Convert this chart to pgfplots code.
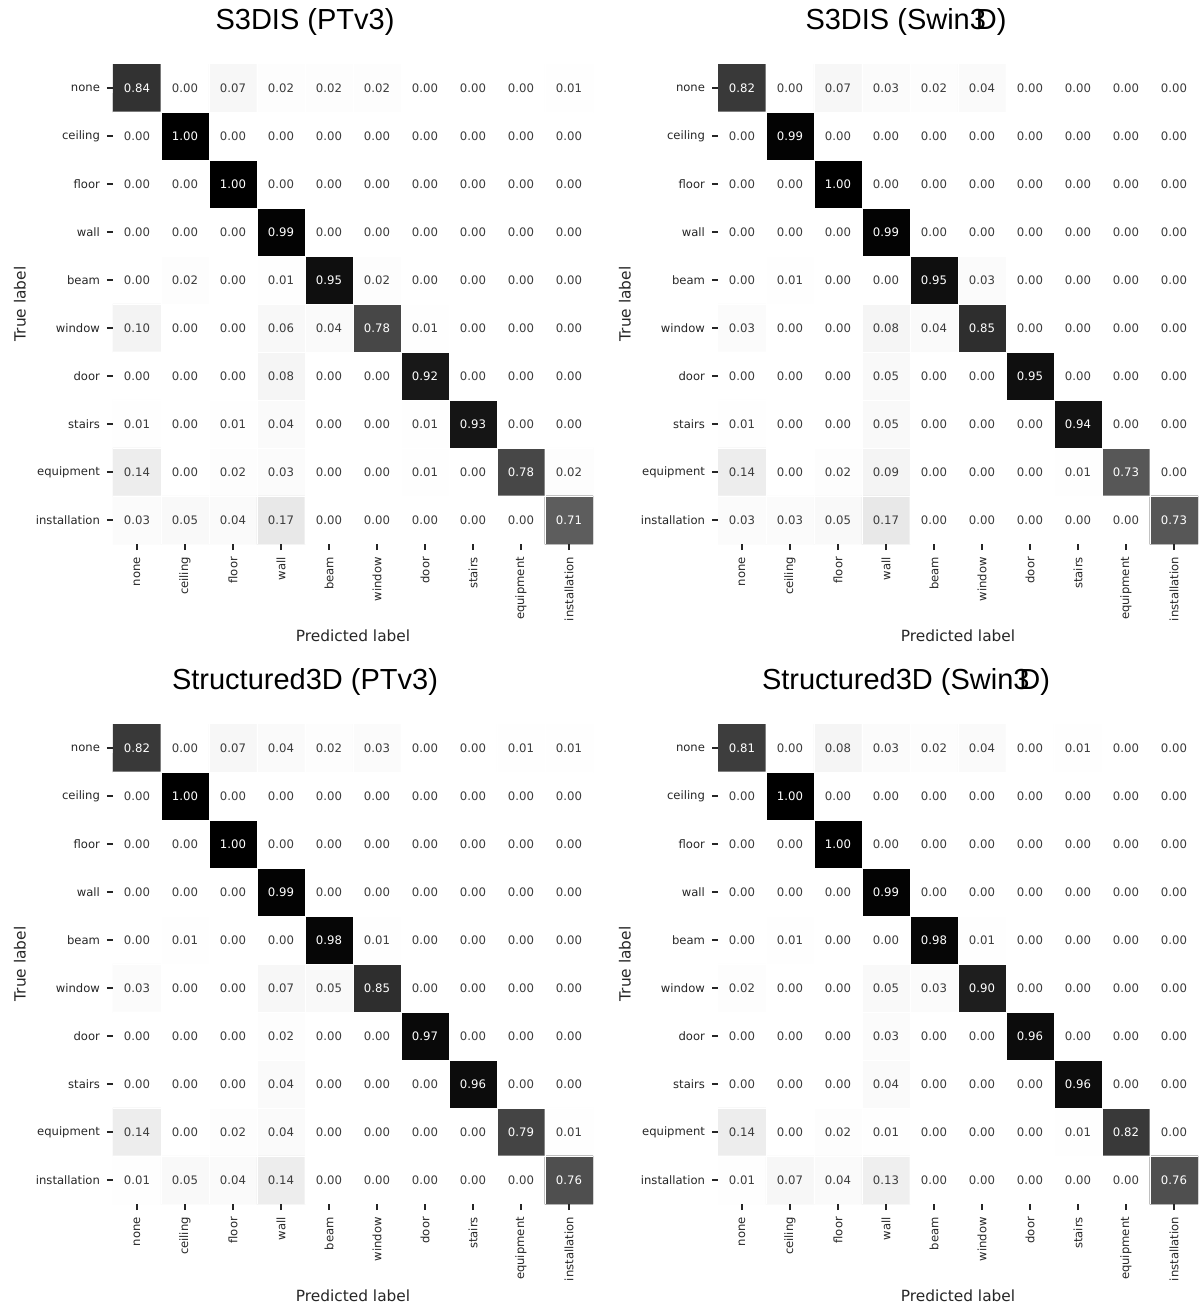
\documentclass[border=0pt]{standalone}
\usepackage{pgfplots}
\pgfplotsset{compat=1.18}
\usepackage{pgfplotstable}
\usepackage{fontspec}
\setmainfont{DejaVu Sans}
\newfontfamily\titlefont{Liberation Sans}
\definecolor{tickc}{HTML}{262626}

% S3DIS (PTv3)
\pgfplotstableread[row sep=\\]{
x y v\\
0 0 0.84\\ 1 0 0.00\\ 2 0 0.07\\ 3 0 0.02\\ 4 0 0.02\\ 5 0 0.02\\ 6 0 0.00\\ 7 0 0.00\\ 8 0 0.00\\ 9 0 0.01\\
0 1 0.00\\ 1 1 1.00\\ 2 1 0.00\\ 3 1 0.00\\ 4 1 0.00\\ 5 1 0.00\\ 6 1 0.00\\ 7 1 0.00\\ 8 1 0.00\\ 9 1 0.00\\
0 2 0.00\\ 1 2 0.00\\ 2 2 1.00\\ 3 2 0.00\\ 4 2 0.00\\ 5 2 0.00\\ 6 2 0.00\\ 7 2 0.00\\ 8 2 0.00\\ 9 2 0.00\\
0 3 0.00\\ 1 3 0.00\\ 2 3 0.00\\ 3 3 0.99\\ 4 3 0.00\\ 5 3 0.00\\ 6 3 0.00\\ 7 3 0.00\\ 8 3 0.00\\ 9 3 0.00\\
0 4 0.00\\ 1 4 0.02\\ 2 4 0.00\\ 3 4 0.01\\ 4 4 0.95\\ 5 4 0.02\\ 6 4 0.00\\ 7 4 0.00\\ 8 4 0.00\\ 9 4 0.00\\
0 5 0.10\\ 1 5 0.00\\ 2 5 0.00\\ 3 5 0.06\\ 4 5 0.04\\ 5 5 0.78\\ 6 5 0.01\\ 7 5 0.00\\ 8 5 0.00\\ 9 5 0.00\\
0 6 0.00\\ 1 6 0.00\\ 2 6 0.00\\ 3 6 0.08\\ 4 6 0.00\\ 5 6 0.00\\ 6 6 0.92\\ 7 6 0.00\\ 8 6 0.00\\ 9 6 0.00\\
0 7 0.01\\ 1 7 0.00\\ 2 7 0.01\\ 3 7 0.04\\ 4 7 0.00\\ 5 7 0.00\\ 6 7 0.01\\ 7 7 0.93\\ 8 7 0.00\\ 9 7 0.00\\
0 8 0.14\\ 1 8 0.00\\ 2 8 0.02\\ 3 8 0.03\\ 4 8 0.00\\ 5 8 0.00\\ 6 8 0.01\\ 7 8 0.00\\ 8 8 0.78\\ 9 8 0.02\\
0 9 0.03\\ 1 9 0.05\\ 2 9 0.04\\ 3 9 0.17\\ 4 9 0.00\\ 5 9 0.00\\ 6 9 0.00\\ 7 9 0.00\\ 8 9 0.00\\ 9 9 0.71\\
}\tabA

% S3DIS (Swin3D)
\pgfplotstableread[row sep=\\]{
x y v\\
0 0 0.82\\ 1 0 0.00\\ 2 0 0.07\\ 3 0 0.03\\ 4 0 0.02\\ 5 0 0.04\\ 6 0 0.00\\ 7 0 0.00\\ 8 0 0.00\\ 9 0 0.00\\
0 1 0.00\\ 1 1 0.99\\ 2 1 0.00\\ 3 1 0.00\\ 4 1 0.00\\ 5 1 0.00\\ 6 1 0.00\\ 7 1 0.00\\ 8 1 0.00\\ 9 1 0.00\\
0 2 0.00\\ 1 2 0.00\\ 2 2 1.00\\ 3 2 0.00\\ 4 2 0.00\\ 5 2 0.00\\ 6 2 0.00\\ 7 2 0.00\\ 8 2 0.00\\ 9 2 0.00\\
0 3 0.00\\ 1 3 0.00\\ 2 3 0.00\\ 3 3 0.99\\ 4 3 0.00\\ 5 3 0.00\\ 6 3 0.00\\ 7 3 0.00\\ 8 3 0.00\\ 9 3 0.00\\
0 4 0.00\\ 1 4 0.01\\ 2 4 0.00\\ 3 4 0.00\\ 4 4 0.95\\ 5 4 0.03\\ 6 4 0.00\\ 7 4 0.00\\ 8 4 0.00\\ 9 4 0.00\\
0 5 0.03\\ 1 5 0.00\\ 2 5 0.00\\ 3 5 0.08\\ 4 5 0.04\\ 5 5 0.85\\ 6 5 0.00\\ 7 5 0.00\\ 8 5 0.00\\ 9 5 0.00\\
0 6 0.00\\ 1 6 0.00\\ 2 6 0.00\\ 3 6 0.05\\ 4 6 0.00\\ 5 6 0.00\\ 6 6 0.95\\ 7 6 0.00\\ 8 6 0.00\\ 9 6 0.00\\
0 7 0.01\\ 1 7 0.00\\ 2 7 0.00\\ 3 7 0.05\\ 4 7 0.00\\ 5 7 0.00\\ 6 7 0.00\\ 7 7 0.94\\ 8 7 0.00\\ 9 7 0.00\\
0 8 0.14\\ 1 8 0.00\\ 2 8 0.02\\ 3 8 0.09\\ 4 8 0.00\\ 5 8 0.00\\ 6 8 0.00\\ 7 8 0.01\\ 8 8 0.73\\ 9 8 0.00\\
0 9 0.03\\ 1 9 0.03\\ 2 9 0.05\\ 3 9 0.17\\ 4 9 0.00\\ 5 9 0.00\\ 6 9 0.00\\ 7 9 0.00\\ 8 9 0.00\\ 9 9 0.73\\
}\tabB

% Structured3D (PTv3)
\pgfplotstableread[row sep=\\]{
x y v\\
0 0 0.82\\ 1 0 0.00\\ 2 0 0.07\\ 3 0 0.04\\ 4 0 0.02\\ 5 0 0.03\\ 6 0 0.00\\ 7 0 0.00\\ 8 0 0.01\\ 9 0 0.01\\
0 1 0.00\\ 1 1 1.00\\ 2 1 0.00\\ 3 1 0.00\\ 4 1 0.00\\ 5 1 0.00\\ 6 1 0.00\\ 7 1 0.00\\ 8 1 0.00\\ 9 1 0.00\\
0 2 0.00\\ 1 2 0.00\\ 2 2 1.00\\ 3 2 0.00\\ 4 2 0.00\\ 5 2 0.00\\ 6 2 0.00\\ 7 2 0.00\\ 8 2 0.00\\ 9 2 0.00\\
0 3 0.00\\ 1 3 0.00\\ 2 3 0.00\\ 3 3 0.99\\ 4 3 0.00\\ 5 3 0.00\\ 6 3 0.00\\ 7 3 0.00\\ 8 3 0.00\\ 9 3 0.00\\
0 4 0.00\\ 1 4 0.01\\ 2 4 0.00\\ 3 4 0.00\\ 4 4 0.98\\ 5 4 0.01\\ 6 4 0.00\\ 7 4 0.00\\ 8 4 0.00\\ 9 4 0.00\\
0 5 0.03\\ 1 5 0.00\\ 2 5 0.00\\ 3 5 0.07\\ 4 5 0.05\\ 5 5 0.85\\ 6 5 0.00\\ 7 5 0.00\\ 8 5 0.00\\ 9 5 0.00\\
0 6 0.00\\ 1 6 0.00\\ 2 6 0.00\\ 3 6 0.02\\ 4 6 0.00\\ 5 6 0.00\\ 6 6 0.97\\ 7 6 0.00\\ 8 6 0.00\\ 9 6 0.00\\
0 7 0.00\\ 1 7 0.00\\ 2 7 0.00\\ 3 7 0.04\\ 4 7 0.00\\ 5 7 0.00\\ 6 7 0.00\\ 7 7 0.96\\ 8 7 0.00\\ 9 7 0.00\\
0 8 0.14\\ 1 8 0.00\\ 2 8 0.02\\ 3 8 0.04\\ 4 8 0.00\\ 5 8 0.00\\ 6 8 0.00\\ 7 8 0.00\\ 8 8 0.79\\ 9 8 0.01\\
0 9 0.01\\ 1 9 0.05\\ 2 9 0.04\\ 3 9 0.14\\ 4 9 0.00\\ 5 9 0.00\\ 6 9 0.00\\ 7 9 0.00\\ 8 9 0.00\\ 9 9 0.76\\
}\tabC

% Structured3D (Swin3D)
\pgfplotstableread[row sep=\\]{
x y v\\
0 0 0.81\\ 1 0 0.00\\ 2 0 0.08\\ 3 0 0.03\\ 4 0 0.02\\ 5 0 0.04\\ 6 0 0.00\\ 7 0 0.01\\ 8 0 0.00\\ 9 0 0.00\\
0 1 0.00\\ 1 1 1.00\\ 2 1 0.00\\ 3 1 0.00\\ 4 1 0.00\\ 5 1 0.00\\ 6 1 0.00\\ 7 1 0.00\\ 8 1 0.00\\ 9 1 0.00\\
0 2 0.00\\ 1 2 0.00\\ 2 2 1.00\\ 3 2 0.00\\ 4 2 0.00\\ 5 2 0.00\\ 6 2 0.00\\ 7 2 0.00\\ 8 2 0.00\\ 9 2 0.00\\
0 3 0.00\\ 1 3 0.00\\ 2 3 0.00\\ 3 3 0.99\\ 4 3 0.00\\ 5 3 0.00\\ 6 3 0.00\\ 7 3 0.00\\ 8 3 0.00\\ 9 3 0.00\\
0 4 0.00\\ 1 4 0.01\\ 2 4 0.00\\ 3 4 0.00\\ 4 4 0.98\\ 5 4 0.01\\ 6 4 0.00\\ 7 4 0.00\\ 8 4 0.00\\ 9 4 0.00\\
0 5 0.02\\ 1 5 0.00\\ 2 5 0.00\\ 3 5 0.05\\ 4 5 0.03\\ 5 5 0.90\\ 6 5 0.00\\ 7 5 0.00\\ 8 5 0.00\\ 9 5 0.00\\
0 6 0.00\\ 1 6 0.00\\ 2 6 0.00\\ 3 6 0.03\\ 4 6 0.00\\ 5 6 0.00\\ 6 6 0.96\\ 7 6 0.00\\ 8 6 0.00\\ 9 6 0.00\\
0 7 0.00\\ 1 7 0.00\\ 2 7 0.00\\ 3 7 0.04\\ 4 7 0.00\\ 5 7 0.00\\ 6 7 0.00\\ 7 7 0.96\\ 8 7 0.00\\ 9 7 0.00\\
0 8 0.14\\ 1 8 0.00\\ 2 8 0.02\\ 3 8 0.01\\ 4 8 0.00\\ 5 8 0.00\\ 6 8 0.00\\ 7 8 0.01\\ 8 8 0.82\\ 9 8 0.00\\
0 9 0.01\\ 1 9 0.07\\ 2 9 0.04\\ 3 9 0.13\\ 4 9 0.00\\ 5 9 0.00\\ 6 9 0.00\\ 7 9 0.00\\ 8 9 0.00\\ 9 9 0.76\\
}\tabD

\pgfplotsset{
  /pgf/number format/assume math mode=true,
  cm/.style={
    width=240pt, height=240pt, scale only axis,
    xmin=-0.5, xmax=9.5, ymin=-0.5, ymax=9.5,
    axis line style={draw=none},
    colormap={greys}{rgb255=(255,255,255) rgb255=(240,240,240) rgb255=(217,217,217) rgb255=(189,189,189) rgb255=(150,150,150) rgb255=(115,115,115) rgb255=(82,82,82) rgb255=(37,37,37) rgb255=(0,0,0)},
    point meta min=0, point meta max=1,
    xtick={0,...,9}, ytick={0,...,9},
    xticklabels={none,ceiling,floor,wall,beam,window,door,stairs,equipment,installation},
    yticklabels={installation,equipment,stairs,door,window,beam,wall,floor,ceiling,none},
    x tick label style={rotate=90, anchor=east},
    tick label style={font=\fontsize{5.8}{7}\selectfont, text=tickc},
    tick align=outside, major tick length=3pt,
    tick style={tickc, line width=0.6pt},
    xtick pos=bottom, ytick pos=left,
    minor xtick={0.5,1.5,...,8.5}, minor ytick={0.5,1.5,...,8.5},
    minor tick length=0pt,
    xminorgrids=true, yminorgrids=true,
    minor grid style={white, line width=0.5pt},
    axis on top,
    xlabel={Predicted label}, ylabel={True label},
    label style={font=\fontsize{7.7}{9}\selectfont, text=tickc},
    xlabel style={at={(axis description cs:0.5,-0.192)}, anchor=center},
    ylabel style={at={(axis description cs:-0.194,0.5)}, anchor=center},
  },
  hm/.style={matrix plot*, mesh/cols=10, point meta=\thisrow{v}},
  txtw/.style={draw=none, mark=none, point meta=\thisrow{v},
    restrict expr to domain={\thisrow{v}}{0.5:2},
    nodes near coords={\pgfmathprintnumber[fixed,fixed zerofill,precision=2]{\pgfplotspointmeta}},
    nodes near coords align=center,
    every node near coord/.append style={font=\fontsize{5.85}{7}\selectfont, text=white, inner sep=0pt}},
  txtd/.style={draw=none, mark=none, point meta=\thisrow{v},
    restrict expr to domain={\thisrow{v}}{-1:0.5},
    nodes near coords={\pgfmathprintnumber[fixed,fixed zerofill,precision=2]{\pgfplotspointmeta}},
    nodes near coords align=center,
    every node near coord/.append style={font=\fontsize{5.85}{7}\selectfont, text=tickc!90, inner sep=0pt}},
}

\newcommand{\panel}[2]{%
  \addplot[hm] table[x=x, y expr=9-\thisrow{y}] {#1};
  \addplot[txtd] table[x=x, y expr=9-\thisrow{y}] {#1};
  \addplot[txtw] table[x=x, y expr=9-\thisrow{y}] {#1};
}

\begin{document}
\begin{tikzpicture}
\fill[white] (0,0) rectangle (600pt,-653.5pt);
\useasboundingbox (0,0) rectangle (600pt,-653.5pt);

\begin{axis}[cm, at={(56.5pt,-32pt)}, anchor=north west]
\panel{\tabA}{}
\end{axis}
\begin{axis}[cm, at={(359pt,-32pt)}, anchor=north west]
\panel{\tabB}{}
\end{axis}
\begin{axis}[cm, at={(56.5pt,-362pt)}, anchor=north west]
\panel{\tabC}{}
\end{axis}
\begin{axis}[cm, at={(359pt,-362pt)}, anchor=north west]
\panel{\tabD}{}
\end{axis}

\node[font=\titlefont\fontsize{14.5}{17}\selectfont] at (152.5pt,-11pt) {S3DIS (PTv3)};
\node[font=\titlefont\fontsize{14.5}{17}\selectfont] at (453pt,-11pt) {S3DIS (Swin3\kern-0.35emD)};
\node[font=\titlefont\fontsize{14.5}{17}\selectfont] at (152.5pt,-341pt) {Structured3D (PTv3)};
\node[font=\titlefont\fontsize{14.5}{17}\selectfont] at (453pt,-341pt) {Structured3D (Swin3\kern-0.35emD)};
\end{tikzpicture}
\end{document}
